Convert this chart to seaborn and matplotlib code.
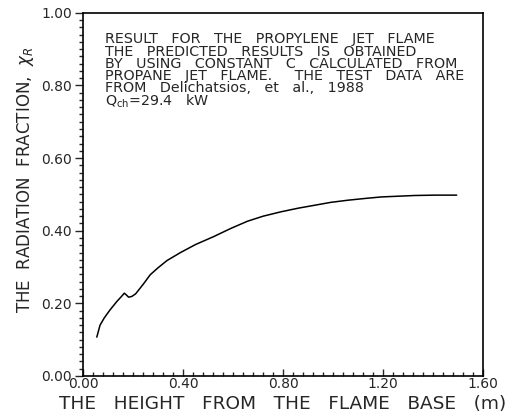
import matplotlib
matplotlib.use("Agg")
from matplotlib import pyplot as plt
from matplotlib.ticker import MultipleLocator, FormatStrFormatter
import seaborn as sns
import pandas as pd

# curve
height = [0.055, 0.068, 0.085, 0.108, 0.135, 0.155, 0.165, 0.175, 0.182, 0.195, 0.210, 0.240,
          0.269, 0.300, 0.336, 0.390, 0.450, 0.523, 0.590, 0.657, 0.720, 0.791, 0.860,
          0.925, 0.990, 1.059, 1.130, 1.193, 1.260, 1.327, 1.410, 1.494]
frac = [0.107, 0.140, 0.160, 0.182, 0.205, 0.220, 0.228, 0.222, 0.217, 0.219, 0.226, 0.252,
        0.279, 0.298, 0.318, 0.340, 0.362, 0.384, 0.406, 0.426, 0.440, 0.452, 0.462,
        0.470, 0.478, 0.484, 0.489, 0.493, 0.495, 0.497, 0.498, 0.498]

note = ["RESULT   FOR   THE   PROPYLENE   JET   FLAME",
        "THE   PREDICTED   RESULTS   IS   OBTAINED",
        "BY   USING   CONSTANT   C   CALCULATED   FROM",
        "PROPANE   JET   FLAME.     THE   TEST   DATA   ARE",
        "FROM   Delichatsios,   et   al.,   1988",
        "Q$_{\\rm ch}$=29.4   kW"]

sns.set_style("ticks")
plt.rcParams['font.family'] = ['DejaVu Sans']
plt.rcParams['mathtext.fontset'] = 'dejavusans'

df = pd.DataFrame({"h": height, "x": frac})
fig = plt.figure(figsize=(5.19, 4.16), dpi=100)
ax = fig.add_axes([0.160, 0.0962, 0.771, 0.873])
sns.lineplot(data=df, x="h", y="x", ax=ax, color="black", linewidth=1.1, sort=False)

ax.set_xlim(0, 1.6)
ax.set_ylim(0, 1.0)
ax.xaxis.set_major_locator(MultipleLocator(0.4))
ax.xaxis.set_minor_locator(MultipleLocator(0.04))
ax.yaxis.set_major_locator(MultipleLocator(0.2))
ax.yaxis.set_minor_locator(MultipleLocator(0.02))
ax.xaxis.set_major_formatter(FormatStrFormatter('%.2f'))
ax.yaxis.set_major_formatter(FormatStrFormatter('%.2f'))
ax.tick_params(axis='x', which='major', direction='in', length=5, width=1, labelsize=10, pad=1)
ax.tick_params(axis='x', which='minor', direction='in', length=3, width=1)
ax.tick_params(axis='y', which='major', direction='out', length=6, width=1, labelsize=10, pad=2)
ax.tick_params(axis='y', which='minor', direction='out', length=3, width=1)
for s in ax.spines.values():
    s.set_linewidth(1.2)
    s.set_color("black")

ax.set_xlabel("THE   HEIGHT   FROM   THE   FLAME   BASE   (m)", fontsize=13.3, va='top')
ax.xaxis.set_label_coords(0.5, -0.052)
ax.set_ylabel("THE  RADIATION  FRACTION,  $\\chi_R$", fontsize=12, va='center')
ax.yaxis.set_label_coords(-0.145, 0.54)

# one block of text, lines about 12.5 px apart as in the scan
ax.text(0.055, 0.946, "\n".join(note), transform=ax.transAxes, fontsize=10.3,
        va='top', ha='left', linespacing=0.83)

fig.savefig("out.png", dpi=100)
